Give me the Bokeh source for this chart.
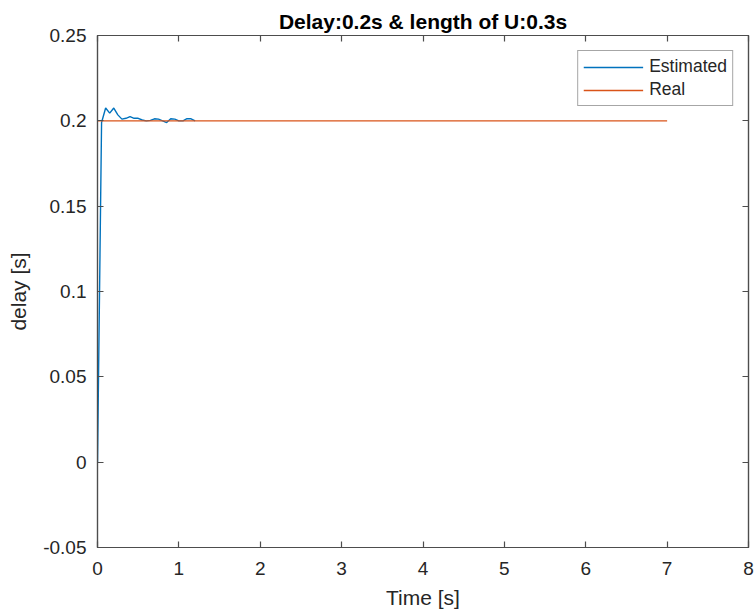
from bokeh.plotting import figure
from bokeh.models import Range1d, FixedTicker, LinearAxis, Legend, LegendItem
from bokeh.embed import file_html
from bokeh.resources import INLINE

# ---- data ----
est_t = [0, 0.05, 0.1, 0.15, 0.2, 0.25, 0.3, 0.35, 0.4, 0.45, 0.5, 0.55, 0.6,
         0.65, 0.7, 0.75, 0.8, 0.85, 0.9, 0.95, 1.0, 1.05, 1.1, 1.15, 1.2]
est_v = [0, 0.199, 0.2075, 0.2045, 0.2075, 0.2035, 0.201, 0.2015, 0.2025, 0.2015,
         0.2015, 0.2005, 0.2, 0.2003, 0.2012, 0.201, 0.2, 0.199, 0.2012, 0.201,
         0.2, 0.2, 0.2013, 0.2012, 0.2]
real_t = [0, 7]
real_v = [0.2, 0.2]

x_ticks = [0, 1, 2, 3, 4, 5, 6, 7, 8]
x_tick_labels = ["0", "1", "2", "3", "4", "5", "6", "7", "8"]
y_ticks = [-0.05, 0, 0.05, 0.1, 0.15, 0.2, 0.25]
y_tick_labels = ["-0.05", "0", "0.05", "0.1", "0.15", "0.2", "0.25"]

title = "Delay:0.2s & length of U:0.3s"
x_label = "Time [s]"
y_label = "delay [s]"
series_names = ["Estimated", "Real"]
colors = ["#0072BD", "#D95319"]

FONT = "Liberation Sans"
AX = "#4d4d4d"
TXT = "#262626"

p = figure(width=755, height=614, output_backend="svg", toolbar_location=None,
           x_range=Range1d(0, 8), y_range=Range1d(-0.05, 0.25),
           min_border_left=97, min_border_right=7, min_border_top=35,
           min_border_bottom=67, x_axis_label=x_label, y_axis_label=y_label)
p.background_fill_color = "white"
p.border_fill_color = "white"
p.grid.visible = False
p.outline_line_color = AX
p.outline_line_width = 1.2

p.title.text = title
p.title.align = "center"
p.title.text_font = FONT
p.title.text_font_size = "21px"
p.title.text_font_style = "bold"
p.title.text_color = "black"
p.title.standoff = 6

r1 = p.line(est_t, est_v, line_color=colors[0], line_width=1.4)
r2 = p.line(real_t, real_v, line_color=colors[1], line_width=1.4)

def style_axis(ax, ticks, labels, show_labels=True):
    ax.ticker = FixedTicker(ticks=ticks)
    ax.major_label_overrides = {t: (l if show_labels else "") for t, l in zip(ticks, labels)}
    ax.axis_line_color = AX
    ax.axis_line_width = 1.2
    ax.major_tick_line_color = AX
    ax.major_tick_line_width = 1.2
    ax.major_tick_in = 6
    ax.major_tick_out = 0
    ax.minor_tick_line_color = None
    ax.major_label_text_font = FONT
    ax.major_label_text_font_size = "19px" if show_labels else "0px"
    ax.major_label_text_color = TXT
    ax.axis_label_text_font = FONT
    ax.axis_label_text_font_size = "21px"
    ax.axis_label_text_font_style = "normal"
    ax.axis_label_text_color = TXT

style_axis(p.xaxis[0], x_ticks, x_tick_labels)
style_axis(p.yaxis[0], y_ticks, y_tick_labels)
p.xaxis[0].major_label_standoff = 14
p.yaxis[0].major_label_standoff = 11
p.xaxis[0].axis_label_standoff = 8
p.yaxis[0].axis_label_standoff = 10

top_ax = LinearAxis()
style_axis(top_ax, x_ticks, x_tick_labels, show_labels=False)
top_ax.major_label_standoff = 0
p.add_layout(top_ax, "above")
right_ax = LinearAxis()
style_axis(right_ax, y_ticks, y_tick_labels, show_labels=False)
right_ax.major_label_standoff = 0
p.add_layout(right_ax, "right")

legend = Legend(items=[LegendItem(label=series_names[0], renderers=[r1]),
                       LegendItem(label=series_names[1], renderers=[r2])],
                location="top_right")
legend.margin = 15
legend.padding = 5
legend.spacing = 2
legend.label_height = 20
legend.glyph_height = 20
legend.glyph_width = 60
legend.label_standoff = 6
legend.label_text_font = FONT
legend.label_text_font_size = "17.5px"
legend.label_text_color = TXT
legend.border_line_color = AX
legend.border_line_width = 1.2
legend.background_fill_color = "white"
p.add_layout(legend, "center")

open("out.html", "w").write(file_html(p, INLINE))
